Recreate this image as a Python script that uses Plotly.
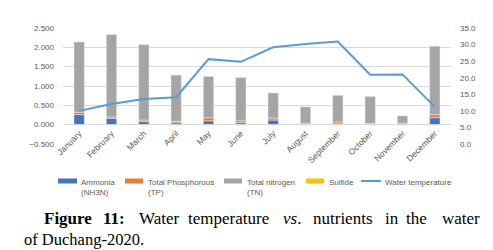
import plotly.graph_objects as go

months = ["January", "February", "March", "April", "May", "June", "July",
          "August", "September", "October", "November", "December"]
ammonia = [0.26, 0.16, 0.08, 0.05, 0.10, 0.05, 0.12, 0.01, 0.02, 0.01, 0.01, 0.18]
phosphorus = [0.06, 0.04, 0.04, 0.04, 0.08, 0.05, 0.05, 0.03, 0.05, 0.02, 0.03, 0.08]
nitrogen = [1.82, 2.13, 1.95, 1.19, 1.07, 1.12, 0.65, 0.42, 0.69, 0.70, 0.19, 1.77]
sulfide = [-0.012, -0.012, -0.012, -0.012, -0.012, -0.012, -0.012, -0.012, -0.012, -0.012, -0.012, -0.012]
water_temp = [10.0, 12.1, 13.6, 14.1, 25.6, 24.8, 29.2, 30.2, 30.9, 20.9, 21.0, 11.2]

names = ["Ammonia<br>(NH3N)", "Total Phosphorous<br>(TP)", "Total nitrogen<br>(TN)", "Sulfide",
         "Water temperature"]
colors = ["#4472C4", "#ED7D31", "#A5A5A5", "#FFC000", "#5B9BD5"]

W, H = 493, 250
L, R, T, B = 55, 50, 20, 114
PW, PH = W - L - R, H - T - B

def px(x):
    return (x - L) / PW

def py(y):
    return (H - B - y) / PH

grey = "#595959"
sans = "Liberation Sans"
fig = go.Figure()
for vals, nm, col in zip([ammonia, phosphorus, nitrogen, sulfide], names[:4], colors[:4]):
    fig.add_trace(go.Bar(x=months, y=vals, name=nm, marker_color=col, showlegend=False))
fig.add_trace(go.Scatter(x=months, y=water_temp, name=names[4], yaxis="y2", showlegend=False,
                         mode="lines", line=dict(color=colors[4], width=2)))

fig.update_layout(
    width=W, height=H,
    margin=dict(l=L, r=R, t=T, b=B, pad=0, autoexpand=False),
    paper_bgcolor="white", plot_bgcolor="white",
    barmode="relative", bargap=0.68,
    font=dict(family=sans, size=8, color=grey),
    xaxis=dict(tickangle=-45, tickfont=dict(size=8.5, color=grey), showgrid=False,
               showline=False, ticks="", ticklen=0, anchor="free", position=py(118),
               automargin=False),
    yaxis=dict(range=[-0.5, 2.5], dtick=0.5, tickformat=".3f", showgrid=True,
               gridcolor="#D9D9D9", gridwidth=1, zeroline=True, zerolinecolor="#D9D9D9",
               zerolinewidth=1, ticks="", tickfont=dict(size=8, color=grey),
               ticklabelstandoff=8, automargin=False, domain=[0, 1]),
    yaxis2=dict(range=[0, 35], dtick=5, tickformat=".1f", overlaying="y", side="right",
                showgrid=False, zeroline=False, ticks="", tickfont=dict(size=8, color=grey),
                ticklabelstandoff=8, automargin=False),
    showlegend=False,
)

# manual legend
leg_sw = [(50, 69), (117, 135), (216, 234), (298, 316), (353, 373)]
leg_tx = [71, 138, 237, 319, 375]
for i, (nm, col) in enumerate(zip(names, colors)):
    x0, x1 = leg_sw[i]
    if i < 4:
        fig.add_shape(type="rect", xref="paper", yref="paper", x0=px(x0), x1=px(x1),
                      y0=py(175.5), y1=py(170.5), fillcolor=col, line_width=0)
    else:
        fig.add_shape(type="line", xref="paper", yref="paper", x0=px(x0), x1=px(x1),
                      y0=py(173), y1=py(173), line=dict(color=col, width=2))
    fig.add_annotation(text=nm, x=px(leg_tx[i]), y=py(168), xref="paper", yref="paper",
                       xanchor="left", yanchor="top", align="left", showarrow=False,
                       font=dict(family=sans, size=8, color=grey))

serif = "Liberation Serif"
words = [
    ("<b>Figure</b>", 34), ("<b>11:</b>", 93), ("Water", 129), ("temperature", 178),
    ("<i>vs</i>.", 273), ("nutrients", 303), ("in", 375), ("the", 396), ("water", 432),
]
for txt, x0 in words:
    fig.add_annotation(text=txt, x=px(x0), y=py(210), xref="paper", yref="paper",
                       xanchor="left", yanchor="middle", showarrow=False,
                       font=dict(family=serif, size=17, color="black"))
fig.add_annotation(text="of Duchang-2020.", x=px(14), y=py(231), xref="paper", yref="paper",
                   xanchor="left", yanchor="middle", showarrow=False,
                   font=dict(family=serif, size=16.5, color="black"))

fig.write_html("out.html")
